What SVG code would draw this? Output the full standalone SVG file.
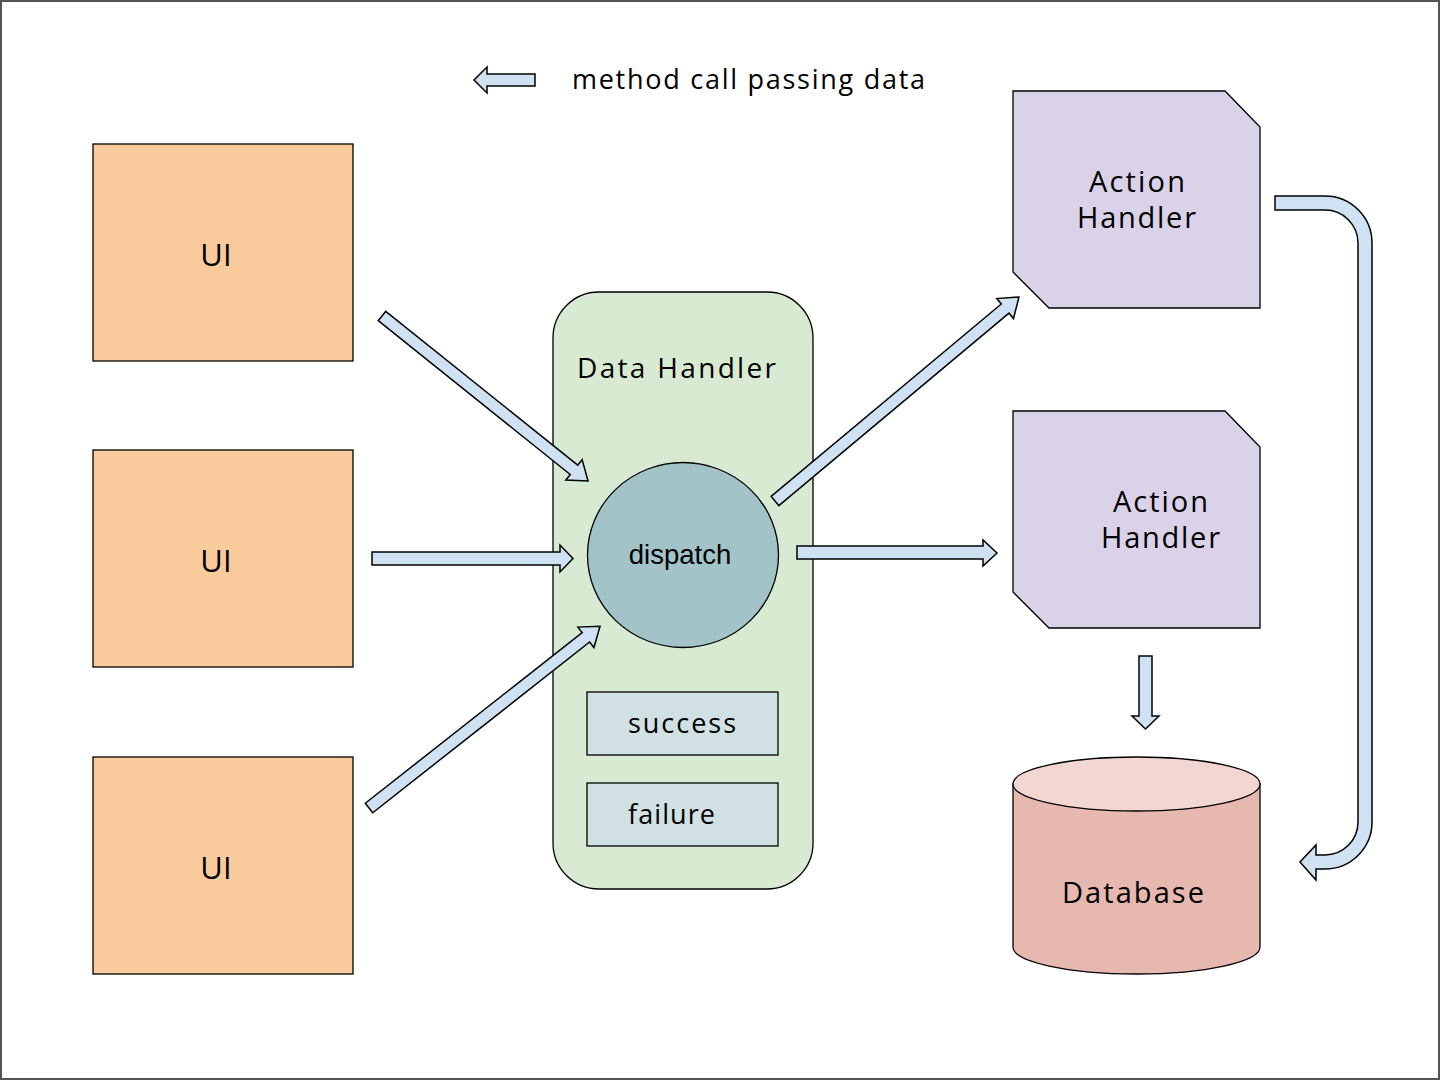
<svg xmlns="http://www.w3.org/2000/svg" width="1440" height="1080" viewBox="0 0 1440 1080">
<style>
.ui{fill:#f9cb9c;stroke:#000;stroke-width:1.3}
.lbl{font-family:"Open Sans","Liberation Sans",sans-serif;fill:#000}
.arr{fill:#cfe2f3;stroke:#000;stroke-width:1.5;stroke-linejoin:miter}
.ah{fill:#d9d2e9;stroke:#000;stroke-width:1.3}
.sub{fill:#d0e0e3;stroke:#000;stroke-width:1.3}
</style>
<rect x="0" y="0" width="1440" height="1080" fill="#fff"/>
<rect x="1" y="1" width="1438" height="1078" fill="none" stroke="#555" stroke-width="2"/>

<g id="legend">
<path class="arr" d="M535,74 H487 V67 L474,80 L487,93 V86 H535 Z"/>
<text class="lbl" x="572" y="89" font-size="27" textLength="353" lengthAdjust="spacing">method call passing data</text>
</g>

<g id="ui1"><rect class="ui" x="93" y="144" width="260" height="217"/><text class="lbl" x="216" y="266" font-size="31" text-anchor="middle">UI</text></g>
<g id="ui2"><rect class="ui" x="93" y="450" width="260" height="217"/><text class="lbl" x="216" y="572" font-size="31" text-anchor="middle">UI</text></g>
<g id="ui3"><rect class="ui" x="93" y="757" width="260" height="217"/><text class="lbl" x="216" y="879" font-size="31" text-anchor="middle">UI</text></g>

<g id="data-handler">
<rect x="553" y="292" width="260" height="597" rx="46" ry="46" fill="#d9ead3" stroke="#000" stroke-width="1.3"/>
<text class="lbl" x="577" y="378" font-size="28" textLength="199" lengthAdjust="spacing">Data Handler</text>
</g>
<g id="dispatch">
<ellipse cx="683" cy="555" rx="95.5" ry="92.5" fill="#a2c4c9" stroke="#000" stroke-width="1.3"/>
<text x="680" y="564" font-size="27.5" text-anchor="middle" font-family="Liberation Sans, Arial, sans-serif">dispatch</text>
</g>
<g id="success"><rect class="sub" x="587" y="692" width="191" height="63"/><text class="lbl" x="628" y="733" font-size="27" textLength="108" lengthAdjust="spacing">success</text></g>
<g id="failure"><rect class="sub" x="587" y="783" width="191" height="63"/><text class="lbl" x="628" y="824" font-size="27" textLength="87" lengthAdjust="spacing">failure</text></g>

<g id="action-handler-1">
<path class="ah" d="M1013,91 H1225 L1260,127 V308 H1049 L1013,272 Z"/>
<text class="lbl" x="1089" y="192" font-size="29" textLength="96" lengthAdjust="spacing">Action</text>
<text class="lbl" x="1077" y="228" font-size="29" textLength="119" lengthAdjust="spacing">Handler</text>
</g>
<g id="action-handler-2">
<path class="ah" d="M1013,411 H1225 L1260,447 V628 H1049 L1013,592 Z"/>
<text class="lbl" x="1113" y="512" font-size="29" textLength="95" lengthAdjust="spacing">Action</text>
<text class="lbl" x="1101" y="548" font-size="29" textLength="119" lengthAdjust="spacing">Handler</text>
</g>
<g id="database">
<path d="M1013,784 V947 A123.5,27 0 0 0 1260,947 V784 Z" fill="#e6b8af" stroke="#000" stroke-width="1.3"/>
<ellipse cx="1136.5" cy="784" rx="123.5" ry="27" fill="#f2d6d1" stroke="#000" stroke-width="1.3"/>
<text class="lbl" x="1062" y="903" font-size="29" textLength="142" lengthAdjust="spacing">Database</text>
</g>

<g id="connectors">
<path class="arr" transform="translate(382,316) rotate(38.7)" d="M0,-6 H246 V-13 L264,0 L246,13 V6 H0 Z"/>
<path class="arr" d="M372,552 H560 V545 L573,558.5 L560,572 V565 H372 Z"/>
<path class="arr" transform="translate(369,808) rotate(-38.2)" d="M0,-6 H276 V-13 L294,0 L276,13 V6 H0 Z"/>
<path class="arr" transform="translate(775,501) rotate(-39.9)" d="M0,-6 H300 V-13 L318,0 L300,13 V6 H0 Z"/>
<path class="arr" d="M797,546 H983 V540 L997,553 L983,566 V559 H797 Z"/>
<path class="arr" d="M1139,656 H1152 V716 H1159 L1145.5,729 L1132,716 H1139 Z"/>
<path class="arr" d="M1275,196 H1325 A47,47 0 0 1 1372,243 V822 A47,47 0 0 1 1325,869 H1316 V880 L1300,862 L1316,845 V855 H1325 A33,33 0 0 0 1358,822 V243 A33,33 0 0 0 1325,210 H1275 Z"/>
</g>
</svg>
